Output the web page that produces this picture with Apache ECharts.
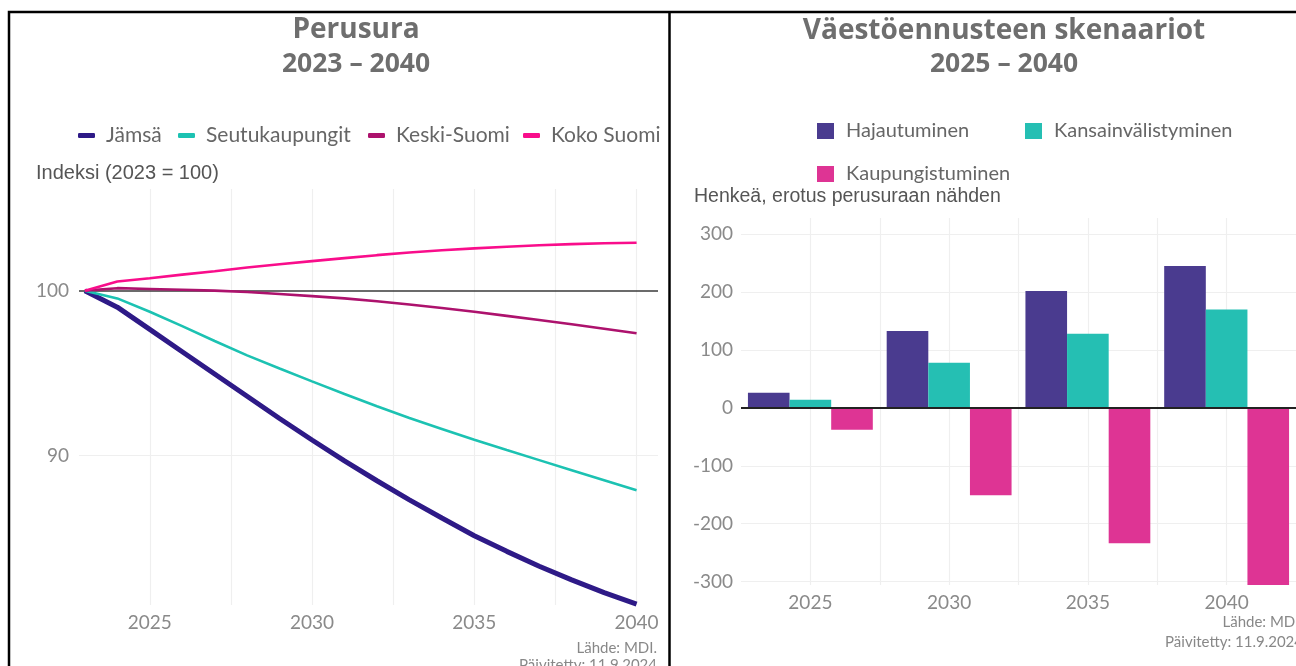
<!DOCTYPE html>
<html><head><meta charset="utf-8">
<script src="https://cdn.jsdelivr.net/npm/echarts@6/dist/echarts.min.js"></script>
<style>html,body{margin:0;padding:0;background:#fff;overflow:hidden}#c{width:1296px;height:666px}</style>
</head><body><div id="c"></div>
<script>
// ---- Left chart: Perusura 2023–2040 (index 2023 = 100)
const years = [2023,2024,2025,2026,2027,2028,2029,2030,2031,2032,2033,2034,2035,2036,2037,2038,2039,2040];
const jamsa = [100,99.0,97.65,96.3,94.95,93.6,92.25,90.95,89.68,88.48,87.32,86.22,85.15,84.2,83.3,82.47,81.7,81.0];
const seutukaupungit = [100,99.53,98.72,97.85,96.95,96.08,95.28,94.5,93.74,92.99,92.28,91.62,90.96,90.34,89.73,89.12,88.51,87.9];
const keskiSuomi = [100,100.15,100.1,100.05,100.0,99.92,99.8,99.67,99.53,99.36,99.16,98.95,98.72,98.47,98.22,97.96,97.69,97.42];
const kokoSuomi = [100,100.55,100.75,100.97,101.18,101.4,101.6,101.79,101.97,102.15,102.31,102.45,102.56,102.66,102.75,102.82,102.87,102.9];
const lineNames = ['Jämsä','Seutukaupungit','Keski-Suomi','Koko Suomi'];
const leftXGrid = [2025,2027.5,2030,2032.5,2035,2037.5,2040];
const leftYGrid = [90];
const leftRefLine = 100;

// ---- Right chart: Väestöennusteen skenaariot 2025–2040
const scenYears = ['2025','2030','2035','2040'];
const hajautuminen = [26,133,202,245];
const kansainvalistyminen = [14,78,128,170];
const kaupungistuminen = [-38,-151,-234,-306];
const barNames = ['Hajautuminen','Kansainvälistyminen','Kaupungistuminen'];
const rightYGrid = [-300,-200,-100,100,200,300];
const rightXGrid = [0.5,1,1.5,2,2.5,3,3.5];

const lineColors = ['#2e1a87','#1cc2b2','#ad126d','#f90d8b'];
const barColors = ['#4a3b8f','#25bfb3','#de3494'];
const FONT = 'Lato';
const TFONT = 'Open Sans';
const TICK = '#8a8a8a';

const chart = echarts.init(document.getElementById('c'));
const pairs = arr => years.map((y,i)=>[y, arr[i]]);
const onlyMult = m => v => (Math.abs(v/m - Math.round(v/m)) < 1e-6 ? String(Math.round(v)) : '');

const gridML = (data, color, width, z) => ({
  silent: true, symbol: 'none', z: z, animation: false,
  label: {show: false}, emphasis: {disabled: true},
  lineStyle: {color: color, width: width, type: 'solid'},
  data: data
});

const legendLeft = (name, left) => ({
  data: [name], left: left, top: 125, padding: 0, icon: 'roundRect', itemWidth: 17, itemHeight: 5,
  selectedMode: false, itemGap: 0,
  textStyle: {fontFamily: FONT, fontSize: 21, color: '#666', padding: [0,0,0,6]}
});
const legendRight = (name, left, top) => ({
  data: [name], left: left, top: top, padding: 0, icon: 'rect', itemWidth: 17, itemHeight: 16,
  selectedMode: false, itemGap: 0,
  textStyle: {fontFamily: FONT, fontSize: 20, color: '#666', padding: [0,0,0,7]}
});

const txt = (text, x, y, size, style) => ({
  type: 'text', x: x, y: y, silent: true,
  style: Object.assign({text: text, fontFamily: FONT, fontSize: size, fill: '#6e6e6e',
    align: 'center', verticalAlign: 'middle'}, style || {})
});

chart.setOption({
  animation: false,
  grid: [
    {left: 79, top: 189, width: 579, height: 416},
    {left: 741, top: 218, width: 561, height: 367}
  ],
  xAxis: [
    {gridIndex: 0, type: 'value', min: 2022.82, max: 2040.66, splitNumber: 4,
     axisLine: {show: false}, axisTick: {show: false}, splitLine: {show: false},
     axisLabel: {formatter: onlyMult(5), color: TICK, fontFamily: FONT, fontSize: 19, margin: 8}},
    {gridIndex: 1, type: 'category', data: scenYears,
     axisLine: {show: false}, axisTick: {show: false}, splitLine: {show: false},
     axisLabel: {color: TICK, fontFamily: FONT, fontSize: 19, margin: 8}},
    {gridIndex: 1, type: 'value', min: 0, max: 4, show: false}
  ],
  yAxis: [
    {gridIndex: 0, type: 'value', min: 80.95, max: 106.16, splitNumber: 2,
     axisLine: {show: false}, axisTick: {show: false}, splitLine: {show: false},
     axisLabel: {formatter: onlyMult(10), color: TICK, fontFamily: FONT, fontSize: 19, margin: 10}},
    {gridIndex: 1, type: 'value', min: -306, max: 328,
     axisLine: {show: false}, axisTick: {show: false}, splitLine: {show: false},
     axisLabel: {formatter: onlyMult(100), color: TICK, fontFamily: FONT, fontSize: 19, margin: 8}}
  ],
  legend: [
    legendLeft(lineNames[0], 78), legendLeft(lineNames[1], 178),
    legendLeft(lineNames[2], 368), legendLeft(lineNames[3], 523),
    legendRight(barNames[0], 817, 121), legendRight(barNames[1], 1025, 121),
    legendRight(barNames[2], 817, 164)
  ],
  series: [
    {name: '_gl', type: 'line', xAxisIndex: 0, yAxisIndex: 0, data: [],
     markLine: gridML(leftXGrid.map(v=>({xAxis: v})).concat(leftYGrid.map(v=>({yAxis: v}))), '#efefef', 1.2, 1)},
    {name: '_gl0', type: 'line', xAxisIndex: 0, yAxisIndex: 0, data: [],
     markLine: gridML([{yAxis: leftRefLine}], '#3a3a3a', 1.6, 1)},
    {name: lineNames[0], type: 'line', xAxisIndex: 0, yAxisIndex: 0, data: pairs(jamsa),
     showSymbol: false, color: lineColors[0], lineStyle: {width: 5}, z: 2},
    {name: lineNames[1], type: 'line', xAxisIndex: 0, yAxisIndex: 0, data: pairs(seutukaupungit),
     showSymbol: false, color: lineColors[1], lineStyle: {width: 2.6}, z: 2},
    {name: lineNames[2], type: 'line', xAxisIndex: 0, yAxisIndex: 0, data: pairs(keskiSuomi),
     showSymbol: false, color: lineColors[2], lineStyle: {width: 2.6}, z: 2},
    {name: lineNames[3], type: 'line', xAxisIndex: 0, yAxisIndex: 0, data: pairs(kokoSuomi),
     showSymbol: false, color: lineColors[3], lineStyle: {width: 2.6}, z: 2},

    {name: '_gr', type: 'line', xAxisIndex: 2, yAxisIndex: 1, data: [],
     markLine: gridML(rightXGrid.map(v=>({xAxis: v})).concat(rightYGrid.map(v=>({yAxis: v}))), '#efefef', 1.2, 1)},
    {name: barNames[0], type: 'bar', xAxisIndex: 1, yAxisIndex: 1, data: hajautuminen,
     color: barColors[0], barGap: '0%', barCategoryGap: '10%', z: 2},
    {name: barNames[1], type: 'bar', xAxisIndex: 1, yAxisIndex: 1, data: kansainvalistyminen,
     color: barColors[1], barGap: '0%', barCategoryGap: '10%', z: 2},
    {name: barNames[2], type: 'bar', xAxisIndex: 1, yAxisIndex: 1, data: kaupungistuminen,
     color: barColors[2], barGap: '0%', barCategoryGap: '10%', z: 2},
    {name: '_gr0', type: 'line', xAxisIndex: 2, yAxisIndex: 1, data: [],
     markLine: gridML([{yAxis: 0}], '#222', 1.8, 6)}
  ],
  graphic: [
    {type: 'rect', silent: true, z: 100, shape: {x: 9, y: 12, width: 1400, height: 700},
     style: {fill: 'none', stroke: '#000', lineWidth: 2.5}},
    {type: 'line', silent: true, z: 100, shape: {x1: 669.5, y1: 12, x2: 669.5, y2: 700},
     style: {stroke: '#000', lineWidth: 2.5}},
    txt('Perusura', 356, 30, 28, {fontFamily: TFONT, fontWeight: 'bold'}),
    txt('2023 – 2040', 356, 64, 26.5, {fontFamily: TFONT, fontWeight: 'bold'}),
    txt('Väestöennusteen skenaariot', 1004, 31, 28, {fontFamily: TFONT, fontWeight: 'bold'}),
    txt('2025 – 2040', 1004, 64, 26.5, {fontFamily: TFONT, fontWeight: 'bold'}),
    txt('Indeksi (2023 = 100)', 36, 173, 20, {fontFamily: 'Liberation Sans', fill: '#555', align: 'left'}),
    txt('Henkeä, erotus perusuraan nähden', 694, 197, 19.5, {fontFamily: 'Liberation Sans', fill: '#555', align: 'left'}),
    txt('Lähde: MDI.', 657, 648, 15, {fill: '#888', align: 'right'}),
    txt('Päivitetty: 11.9.2024', 657, 665, 15, {fill: '#888', align: 'right'}),
    txt('Lähde: MDI.', 1303, 622, 15, {fill: '#888', align: 'right'}),
    txt('Päivitetty: 11.9.2024', 1303, 642, 15, {fill: '#888', align: 'right'})
  ]
});
</script></body></html>
